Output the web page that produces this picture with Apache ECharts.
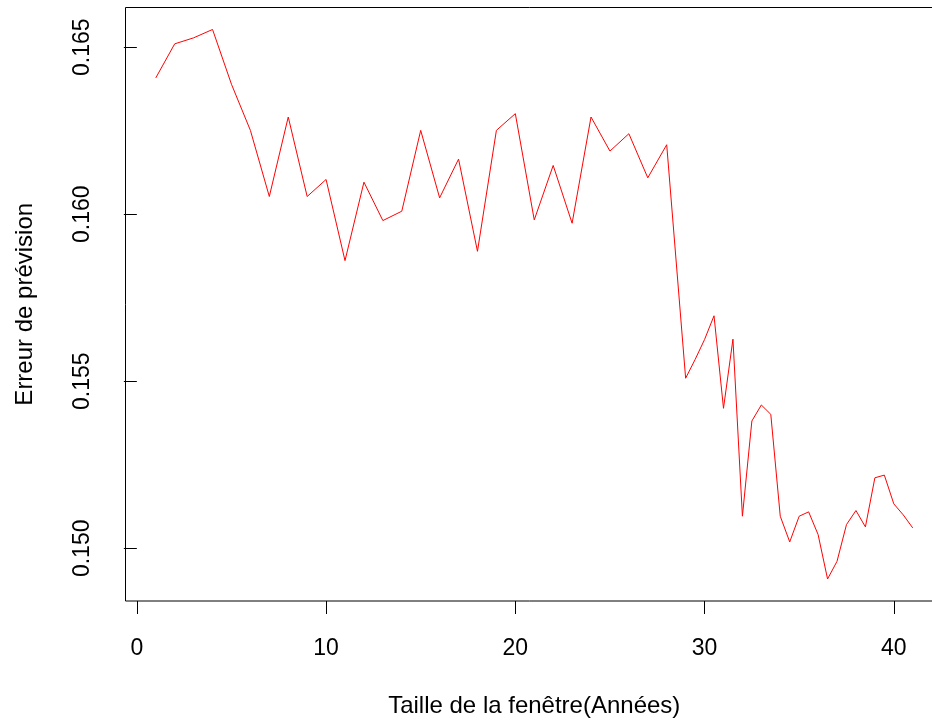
<!DOCTYPE html>
<html>
<head>
<meta charset="utf-8">
<script src="https://cdn.jsdelivr.net/npm/echarts@6/dist/echarts.min.js"></script>
<style>
  html, body { margin: 0; padding: 0; background: #fff; }
  #chart { width: 932px; height: 721px; }
</style>
</head>
<body>
<div id="chart"></div>
<script>
// window size (years) and forecast error
const windowYears = [
  1, 2, 3, 4, 5, 6, 7, 8, 9, 10,
  11, 12, 13, 14, 15, 16, 17, 18, 19, 20,
  21, 22, 23, 24, 25, 26, 27, 28, 29, 29.5,
  30, 30.5, 31, 31.5, 32, 32.5, 33, 33.5, 34, 34.5,
  35, 35.5, 36, 36.5, 37, 37.5, 38, 38.5, 39, 39.5,
  40, 40.5, 41
]
const forecastError = [
  0.16408, 0.16510, 0.16528, 0.16553, 0.16389, 0.16251, 0.16053, 0.16291, 0.16053, 0.16104,
  0.15861, 0.16096, 0.15981, 0.16009, 0.16251, 0.16049, 0.16165, 0.15889, 0.16251, 0.16301,
  0.15983, 0.16146, 0.15973, 0.16291, 0.16189, 0.16241, 0.16109, 0.16208, 0.15509, 0.15565,
  0.15625, 0.15696, 0.15419, 0.15626, 0.15096, 0.15381, 0.15429, 0.15401, 0.15096, 0.15019,
  0.15096, 0.15109, 0.15041, 0.14908, 0.14961, 0.15071, 0.15113, 0.15064, 0.15211, 0.15219,
  0.15133, 0.15100, 0.15061
]
const xTicks = [0, 10, 20, 30, 40]
const yTicks = [0.150, 0.155, 0.160, 0.165]

// R pads the data range by 4% on each side
function padRange (arr) {
  const lo = Math.min(...arr), hi = Math.max(...arr)
  const p = (hi - lo) * 0.04
  return [lo - p, hi + p]
}
const xr = padRange(windowYears)
const yr = padRange(forecastError)

const font = 'Liberation Sans, Arial, sans-serif'
const chart = echarts.init(document.getElementById('chart'))
chart.setOption({
  animation: false,
  grid: {
    left: 125.5, right: -11, top: 7.5, bottom: 120,
    show: true, borderColor: '#000', borderWidth: 1,
    outerBoundsMode: 'none'
  },
  xAxis: {
    type: 'value', min: xr[0], max: xr[1],
    name: 'Taille de la fenêtre(Années)',
    nameLocation: 'middle', nameGap: 93,
    nameTextStyle: { fontFamily: font, fontSize: 24, color: '#000' },
    axisLine: { show: false },
    axisTick: { show: true, length: 13, customValues: xTicks, lineStyle: { color: '#000' } },
    axisLabel: { customValues: xTicks, margin: 36, fontFamily: font, fontSize: 23, color: '#000' },
    splitLine: { show: false }
  },
  yAxis: {
    type: 'value', min: yr[0], max: yr[1],
    name: 'Erreur de prévision',
    nameLocation: 'middle', nameGap: 88,
    nameTextStyle: { fontFamily: font, fontSize: 24, color: '#000' },
    axisLine: { show: false },
    axisTick: { show: true, length: 13, customValues: yTicks, lineStyle: { color: '#000' } },
    axisLabel: {
      customValues: yTicks, rotate: 90, margin: 31,
      fontFamily: font, fontSize: 23, color: '#000',
      formatter: v => v.toFixed(3)
    },
    splitLine: { show: false }
  },
  series: [{
    type: 'line',
    data: windowYears.map((x, i) => [x, forecastError[i]]),
    showSymbol: false,
    lineStyle: { color: '#ff0000', width: 1 }
  }]
})
</script>
</body>
</html>
